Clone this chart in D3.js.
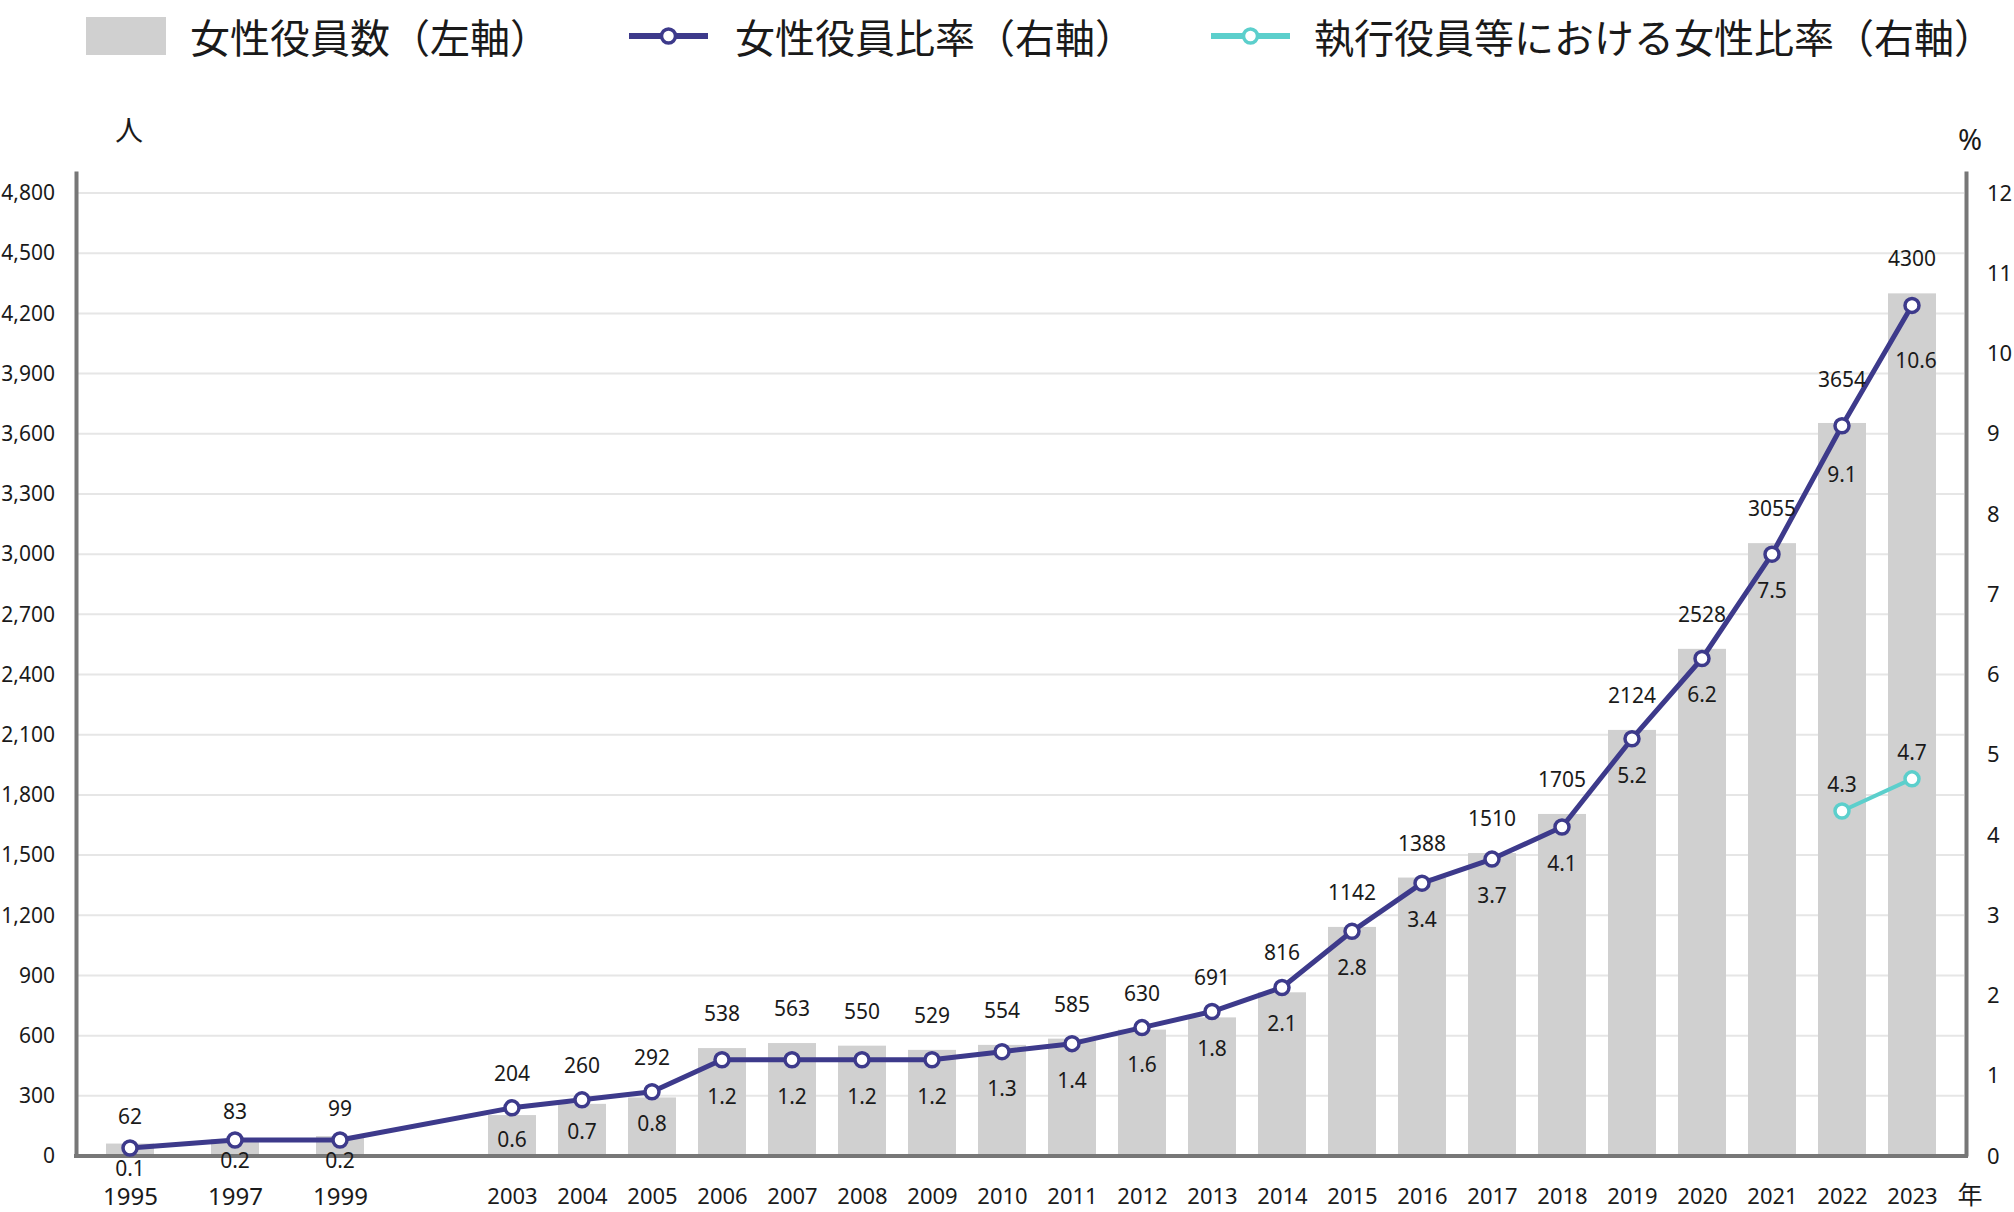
<!DOCTYPE html>
<html>
<head>
<meta charset="utf-8">
<script src="https://cdn.jsdelivr.net/npm/d3@7"></script>
<style>
  html, body { margin: 0; padding: 0; background: #fff; }
  svg { display: block; }
</style>
</head>
<body>
<svg id="chart" width="2014" height="1212"></svg>
<script>
// ---- data ----
const years = [1995, 1997, 1999, 2003, 2004, 2005, 2006, 2007, 2008, 2009, 2010, 2011, 2012, 2013, 2014, 2015, 2016, 2017, 2018, 2019, 2020, 2021, 2022, 2023];
const femaleOfficers = [62, 83, 99, 204, 260, 292, 538, 563, 550, 529, 554, 585, 630, 691, 816, 1142, 1388, 1510, 1705, 2124, 2528, 3055, 3654, 4300];
const femaleRatio = [0.1, 0.2, 0.2, 0.6, 0.7, 0.8, 1.2, 1.2, 1.2, 1.2, 1.3, 1.4, 1.6, 1.8, 2.1, 2.8, 3.4, 3.7, 4.1, 5.2, 6.2, 7.5, 9.1, 10.6];
const execYears = [2022, 2023];
const execRatio = [4.3, 4.7];
const leftTicks = [0, 300, 600, 900, 1200, 1500, 1800, 2100, 2400, 2700, 3000, 3300, 3600, 3900, 4200, 4500, 4800];
const rightTicks = [0, 1, 2, 3, 4, 5, 6, 7, 8, 9, 10, 11, 12];
const legendLabels = ["女性役員数（左軸）", "女性役員比率（右軸）", "執行役員等における女性比率（右軸）"];
const leftUnit = "人", rightUnit = "%", xUnit = "年";

// ---- styles ----
const C_BAR = "#d0d0d0", C_LINE = "#3d3a8b", C_EXEC = "#5ccfcc", C_AXIS = "#777777", C_GRID = "#e6e6e6", C_TEXT = "#1a1a1a";
const FONT = "'Noto Sans', 'Noto Sans CJK JP', sans-serif";
const FONT_JP = "'Noto Sans CJK JP', 'Noto Sans', sans-serif";

const svg = d3.select("#chart");
const plotLeft = 76, plotRight = 1966, plotBase = 1156, plotTop = 171;

const x = d3.scaleLinear().domain([1995, 1999, 2003, 2023]).range([130, 340, 512, 1912]);
const yL = d3.scaleLinear().domain([0, 4910]).range([plotBase, plotTop]);
const yR = d3.scaleLinear().domain([0, 4910 / 400]).range([plotBase, plotTop]);
const barW = 48;

// gridlines
svg.append("g").selectAll("line").data(leftTicks.filter(d => d > 0)).join("line")
  .attr("x1", plotLeft + 2).attr("x2", plotRight - 2)
  .attr("y1", d => yL(d)).attr("y2", d => yL(d))
  .attr("stroke", C_GRID).attr("stroke-width", 2);

// bars
svg.append("g").selectAll("rect").data(years).join("rect")
  .attr("x", d => x(d) - barW / 2)
  .attr("width", barW)
  .attr("y", (d, i) => yL(femaleOfficers[i]))
  .attr("height", (d, i) => plotBase - yL(femaleOfficers[i]))
  .attr("fill", C_BAR);

// left axis
const gL = svg.append("g").attr("transform", `translate(${plotLeft},0)`)
  .call(d3.axisLeft(yL).tickValues(leftTicks).tickSize(0).tickSizeOuter(0).tickPadding(21).tickFormat(d3.format(",")));
gL.select(".domain").attr("stroke", C_AXIS).attr("stroke-width", 4);
gL.selectAll("text").attr("font-family", FONT).attr("font-size", 21).attr("fill", C_TEXT);

// right axis
const gR = svg.append("g").attr("transform", `translate(${plotRight},0)`)
  .call(d3.axisRight(yR).tickValues(rightTicks).tickSize(0).tickSizeOuter(0).tickPadding(21));
gR.select(".domain").attr("stroke", C_AXIS).attr("stroke-width", 4);
gR.selectAll("text").attr("font-family", FONT).attr("font-size", 22).attr("fill", C_TEXT);

// baseline
svg.append("line").attr("x1", plotLeft - 2).attr("x2", plotRight + 2).attr("y1", plotBase).attr("y2", plotBase)
  .attr("stroke", C_AXIS).attr("stroke-width", 4);

// x axis labels
const gX = svg.append("g").attr("transform", `translate(0,${plotBase})`)
  .call(d3.axisBottom(x).tickValues(years).tickSize(0).tickPadding(0).tickFormat(d => String(d)));
gX.select(".domain").remove();
gX.selectAll("text")
  .attr("font-family", FONT).attr("fill", C_TEXT)
  .attr("font-size", (d, i) => i < 3 ? 24 : 22)
  .attr("dy", null).attr("y", 39).attr("dominant-baseline", "central");

// ratio line
const lineGen = d3.line().x(d => x(d[0])).y(d => yR(d[1]));
const ratioPts = years.map((d, i) => [d, femaleRatio[i]]);
svg.append("path").datum(ratioPts).attr("d", lineGen)
  .attr("fill", "none").attr("stroke", C_LINE).attr("stroke-width", 5).attr("stroke-linejoin", "round");
svg.append("g").selectAll("circle").data(ratioPts).join("circle")
  .attr("cx", d => x(d[0])).attr("cy", d => yR(d[1])).attr("r", 7)
  .attr("fill", "#fff").attr("stroke", C_LINE).attr("stroke-width", 3.5);

// exec line
const execPts = execYears.map((d, i) => [d, execRatio[i]]);
svg.append("path").datum(execPts).attr("d", lineGen)
  .attr("fill", "none").attr("stroke", C_EXEC).attr("stroke-width", 4);
svg.append("g").selectAll("circle").data(execPts).join("circle")
  .attr("cx", d => x(d[0])).attr("cy", d => yR(d[1])).attr("r", 7)
  .attr("fill", "#fff").attr("stroke", C_EXEC).attr("stroke-width", 3.5);

// count labels
svg.append("g").selectAll("text").data(years).join("text")
  .attr("x", d => x(d))
  .attr("y", (d, i) => Math.min(yL(femaleOfficers[i]), yR(femaleRatio[i])) - (i < 3 ? 28 : i === 22 ? 44 : 35))
  .attr("text-anchor", "middle").attr("dominant-baseline", "central")
  .attr("font-family", FONT).attr("font-size", 21).attr("fill", C_TEXT)
  .text((d, i) => femaleOfficers[i]);

// ratio labels
svg.append("g").selectAll("text").data(ratioPts).join("text")
  .attr("x", (d, i) => x(d[0]) + (i === years.length - 1 ? 4 : 0))
  .attr("y", (d, i) => yR(d[1]) + (i < 3 ? 20 : i < 6 ? 31 : i < 22 ? 36 : i === 22 ? 48 : 55))
  .attr("text-anchor", "middle").attr("dominant-baseline", "central")
  .attr("font-family", FONT).attr("font-size", 21).attr("fill", C_TEXT)
  .text(d => d[1].toFixed(1));

// exec labels
svg.append("g").selectAll("text").data(execPts).join("text")
  .attr("x", d => x(d[0]))
  .attr("y", d => yR(d[1]) - 27)
  .attr("text-anchor", "middle").attr("dominant-baseline", "central")
  .attr("font-family", FONT).attr("font-size", 21).attr("fill", C_TEXT)
  .text(d => d[1].toFixed(1));

// units
svg.append("text").attr("x", 129).attr("y", 129).attr("text-anchor", "middle").attr("dominant-baseline", "central")
  .attr("font-family", FONT_JP).attr("font-size", 28).attr("fill", C_TEXT).text(leftUnit);
svg.append("text").attr("x", 1970).attr("y", 138).attr("text-anchor", "middle").attr("dominant-baseline", "central")
  .attr("font-family", FONT).attr("font-size", 29).attr("fill", C_TEXT).text(rightUnit);
svg.append("text").attr("x", 1970).attr("y", 1193).attr("text-anchor", "middle").attr("dominant-baseline", "central")
  .attr("font-family", FONT_JP).attr("font-size", 25).attr("fill", C_TEXT).text(xUnit);

// legend
const ly = 36;
const lg = svg.append("g");
lg.append("rect").attr("x", 86).attr("y", 17).attr("width", 80).attr("height", 38).attr("fill", C_BAR);
lg.append("text").attr("x", 190).attr("y", ly).attr("dominant-baseline", "central")
  .attr("font-family", FONT_JP).attr("font-size", 40).attr("fill", C_TEXT).text(legendLabels[0]);

[[629, C_LINE, 735, legendLabels[1]], [1211, C_EXEC, 1314, legendLabels[2]]].forEach(([lx, col, tx, label]) => {
  lg.append("line").attr("x1", lx).attr("x2", lx + 79).attr("y1", ly).attr("y2", ly)
    .attr("stroke", col).attr("stroke-width", 6);
  lg.append("circle").attr("cx", lx + 39.5).attr("cy", ly).attr("r", 7)
    .attr("fill", "#fff").attr("stroke", col).attr("stroke-width", 3.5);
  lg.append("text").attr("x", tx).attr("y", ly).attr("dominant-baseline", "central")
    .attr("font-family", FONT_JP).attr("font-size", 40).attr("fill", C_TEXT).text(label);
});
</script>
</body>
</html>
